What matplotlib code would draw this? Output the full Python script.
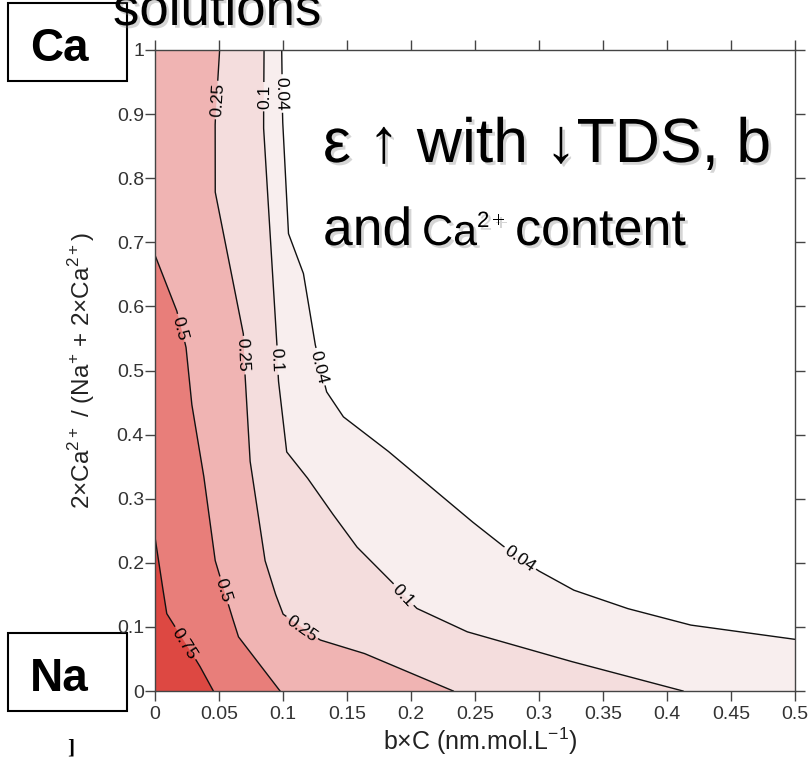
import numpy as np
import matplotlib.pyplot as plt
import matplotlib.patheffects as pe
from matplotlib.patches import Rectangle, Polygon

plt.rcParams['font.family'] = ['Liberation Sans', 'DejaVu Sans']
plt.rcParams['mathtext.fontset'] = 'custom'
plt.rcParams['mathtext.rm'] = 'Liberation Sans'

# isolines of epsilon: x = b*C, y = Ca fraction
levels = [0.04, 0.1, 0.25, 0.5, 0.75]
level_text = ['0.04', '0.1', '0.25', '0.5', '0.75']

iso_004_x = [0.099, 0.0997, 0.1042, 0.1159, 0.125, 0.134, 0.147, 0.181, 0.1888, 0.246, 0.2708,
             0.2995, 0.3268, 0.3685, 0.418, 0.5]
iso_004_y = [1.0, 0.891, 0.714, 0.652, 0.542, 0.467, 0.428, 0.376, 0.363, 0.267, 0.2278,
             0.1877, 0.1576, 0.129, 0.103, 0.0806]

iso_01_x = [0.0852, 0.0848, 0.0951, 0.0964, 0.1029, 0.1185, 0.1367, 0.1576, 0.1836, 0.2044,
            0.2435, 0.3216, 0.4125]
iso_01_y = [1.0, 0.88, 0.548, 0.485, 0.373, 0.334, 0.282, 0.225, 0.173, 0.129,
            0.0926, 0.048, 0.0]

iso_025_x = [0.0505, 0.047, 0.047, 0.069, 0.0703, 0.0742, 0.0859, 0.0938, 0.1, 0.129, 0.163, 0.233]
iso_025_y = [1.0, 0.886, 0.779, 0.558, 0.495, 0.36, 0.204, 0.153, 0.12, 0.0796, 0.059, 0.0]

iso_05_x = [0.0, 0.0169, 0.0242, 0.0286, 0.0378, 0.0469, 0.0586, 0.0651, 0.0977]
iso_05_y = [0.68, 0.594, 0.537, 0.449, 0.3396, 0.2044, 0.1264, 0.0848, 0.0]

iso_075_x = [0.0, 0.003, 0.0091, 0.0345, 0.0456]
iso_075_y = [0.24, 0.2, 0.121, 0.0406, 0.0]

x_ticks = [0, 0.05, 0.1, 0.15, 0.2, 0.25, 0.3, 0.35, 0.4, 0.45, 0.5]
x_tick_labels = ['0', '0.05', '0.1', '0.15', '0.2', '0.25', '0.3', '0.35', '0.4', '0.45', '0.5']
y_ticks = [0, 0.1, 0.2, 0.3, 0.4, 0.5, 0.6, 0.7, 0.8, 0.9, 1.0]
y_tick_labels = ['0', '0.1', '0.2', '0.3', '0.4', '0.5', '0.6', '0.7', '0.8', '0.9', '1']

isolines = [(iso_004_x, iso_004_y), (iso_01_x, iso_01_y), (iso_025_x, iso_025_y),
            (iso_05_x, iso_05_y), (iso_075_x, iso_075_y)]

# band colours above each level
band_colors = ['#f8eeee', '#f4dddd', '#f0b4b3', '#e87e7a', '#dd4842']

# inline label spots (level index, x, y, preferred rotation)
label_spots = [
    (2, 0.048, 0.922, 90), (1, 0.0846, 0.927, 90), (0, 0.0997, 0.932, -90),
    (3, 0.0195, 0.566, -70), (2, 0.0698, 0.524, -90), (1, 0.095, 0.516, -90),
    (0, 0.129, 0.506, -70),
    (3, 0.0508, 0.155, -70), (4, 0.0234, 0.0745, -60), (2, 0.1146, 0.0978, -30),
    (1, 0.194, 0.15, -40), (0, 0.2846, 0.2054, -30),
]

W, H = 809, 759
fig = plt.figure(figsize=(W / 100, H / 100), dpi=100)
ax = fig.add_axes([155 / W, 1 - 691 / H, 640 / W, 641 / H])
ax.set_xlim(0, 0.5)
ax.set_ylim(0, 1)


def fx(px):
    return px / W


def fy(py):
    return 1 - py / H


# filled bands, painted from the lowest level upwards
for (xs, ys), col in zip(isolines, band_colors):
    verts = list(zip(xs, ys))
    if xs[-1] == 0.5:
        verts.append((0.5, 0.0))
    verts.append((0.0, 0.0))
    if ys[0] == 1.0:
        verts.append((0.0, 1.0))
    ax.add_patch(Polygon(verts, closed=True, facecolor=col, edgecolor='none', zorder=1))

renderer = fig.canvas.get_renderer()
to_disp = ax.transData
to_data = ax.transData.inverted()

dense = []
for xs, ys in isolines:
    pts = to_disp.transform(np.column_stack([xs, ys]))
    seg = np.hypot(*np.diff(pts, axis=0).T)
    s = np.concatenate([[0], np.cumsum(seg)])
    t = np.union1d(np.linspace(0, s[-1], 3000), s)
    dense.append([t, np.interp(t, s, pts[:, 0]), np.interp(t, s, pts[:, 1]), np.ones_like(t, bool)])

for k, lx, ly, want in label_spots:
    t, px, py, keep = dense[k]
    cx, cy = to_disp.transform((lx, ly))
    i = int(np.argmin(np.hypot(px - cx, py - cy)))
    j0, j1 = max(i - 25, 0), min(i + 25, len(t) - 1)
    ang = np.degrees(np.arctan2(py[j1] - py[j0], px[j1] - px[j0]))
    cands = [ang, ang + 180, ang - 180, ang + 360, ang - 360]
    rot = min(cands, key=lambda a: abs(a - want))
    xd, yd = to_data.transform((px[i], py[i]))
    txt = ax.text(xd, yd, level_text[k], fontsize=12.5, ha='center', va='center_baseline',
                  rotation=0, rotation_mode='anchor', zorder=4)
    w = txt.get_window_extent(renderer).width
    txt.set_rotation(rot)
    keep &= np.abs(t - t[i]) > w / 2 + 3

for t, px, py, keep in dense:
    d = to_data.transform(np.column_stack([px, py]))
    d[~keep] = np.nan
    ax.plot(d[:, 0], d[:, 1], color='#111111', lw=1.0, zorder=3)

ax.set_xticks(x_ticks)
ax.set_xticklabels(x_tick_labels)
ax.set_yticks(y_ticks)
ax.set_yticklabels(y_tick_labels)
ax.tick_params(axis='both', direction='out', length=7, width=1, colors='#444444',
               labelcolor='#333333', labelsize=14, top=True, right=True)
ax.tick_params(axis='x', pad=4)
ax.tick_params(axis='y', pad=1)
for sp in ax.spines.values():
    sp.set_color('#444444')
    sp.set_linewidth(1)
    sp.set_zorder(5)

ax.set_xlabel(r'b×C (nm.mol.L$^{\mathregular{-1}}$)', fontsize=18, color='#222222')
ax.xaxis.label.set_va('baseline')
ax.xaxis.set_label_coords((480 - 155) / 640, (691 - 750) / 641)
ax.set_ylabel(r'2×Ca$^{\mathregular{2+}}$ / (Na$^{\mathregular{+}}$ + 2×Ca$^{\mathregular{2+}}$)',
              fontsize=17.5, color='#222222')
ax.yaxis.label.set_va('center')
ax.yaxis.set_label_coords((82 - 155) / 640, 0.5)

# overlay annotations
shadow = [pe.SimplePatchShadow(offset=(2, -2), shadow_rgbFace='#777777', alpha=0.3), pe.Normal()]
fig.text(fx(113), fy(25), 'solutions', fontsize=38, va='baseline', ha='left',
         path_effects=shadow, zorder=6)
fig.text(fx(323), fy(162), 'ε ↑ with ↓TDS, b', fontsize=45, va='baseline', ha='left',
         path_effects=shadow, zorder=6)
fig.text(fx(323), fy(245), 'and', fontsize=38.5, va='baseline', ha='left',
         path_effects=shadow, zorder=6)
fig.text(fx(422), fy(245), 'Ca', fontsize=31, va='baseline', ha='left',
         path_effects=shadow, zorder=6)
fig.text(fx(477), fy(227), '2', fontsize=16, va='baseline', ha='left',
         path_effects=shadow, zorder=6)
fig.text(fx(492), fy(227), '+', fontsize=16, va='baseline', ha='left',
         path_effects=shadow, zorder=6)
fig.text(fx(515), fy(245), 'content', fontsize=37.5, va='baseline', ha='left',
         path_effects=shadow, zorder=6)

for top, label in [(3, 'Ca'), (633, 'Na')]:
    fig.patches.append(Rectangle((fx(8), fy(top + 78)), 119 / W, 78 / H, transform=fig.transFigure,
                                 facecolor='white', edgecolor='black', lw=1.5, zorder=-1))
    fig.text(fx(59), fy(top + 58), label, fontsize=33, fontweight='bold', ha='center',
             va='baseline', zorder=6)

fig.text(fx(71), fy(748), ']', family='Liberation Serif', fontweight='bold', fontsize=15,
         ha='center', va='center')

fig.savefig('out.png', dpi=100)
